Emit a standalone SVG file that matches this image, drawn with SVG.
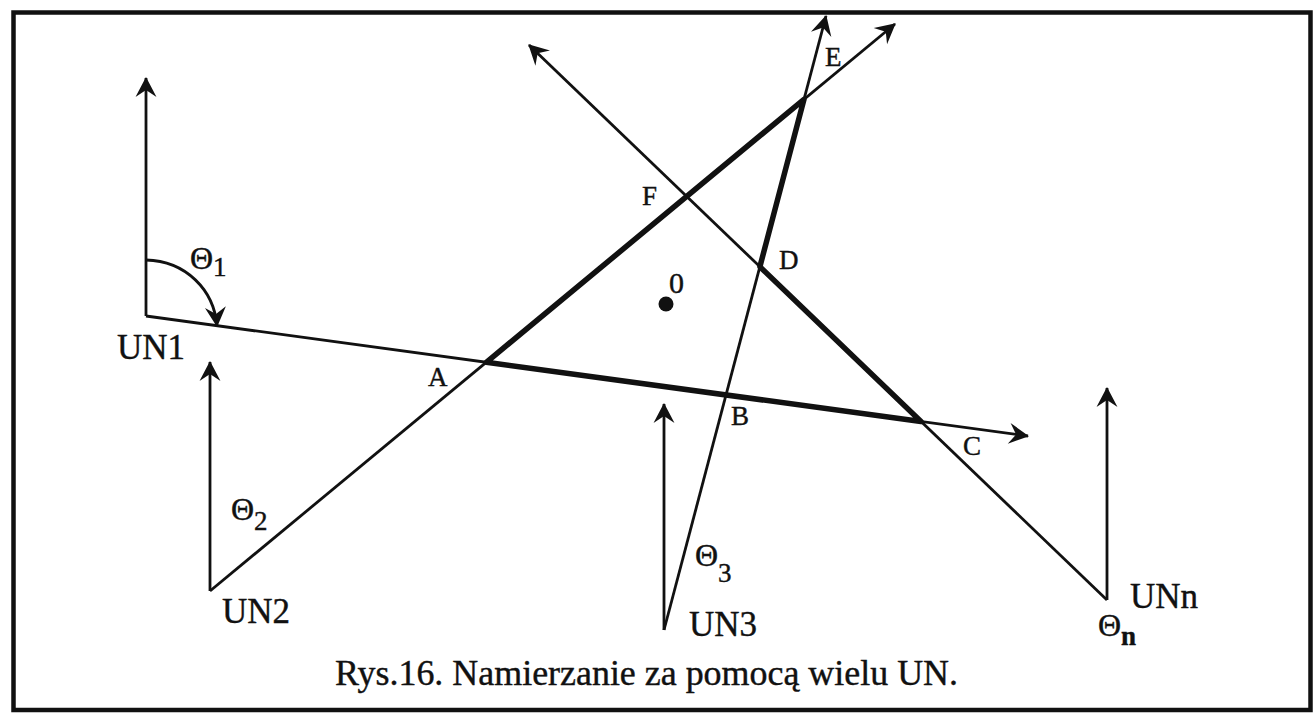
<svg xmlns="http://www.w3.org/2000/svg" width="1313" height="717" viewBox="0 0 1313 717">
<style>
.thin{fill:none;stroke:#111;stroke-width:2.8;stroke-linecap:butt}
.thick{fill:none;stroke:#111;stroke-width:5.5;stroke-linecap:round;stroke-linejoin:round}
.arr{marker-end:url(#ah)}
.lbl{font-family:"Liberation Serif","Times New Roman",serif;fill:#111;stroke:#111;stroke-width:0.4}
.un{font-size:35px}
.pt{font-size:27px}
.th{font-size:32px}
.sub{font-size:27px}
</style>
<defs>
<marker id="ah" viewBox="-22 -12 24 24" refX="0" refY="0" markerWidth="24" markerHeight="24" markerUnits="userSpaceOnUse" orient="auto">
<path d="M1,0 L-19,-10.5 L-12,0 L-19,10.5 Z" fill="#111"/>
</marker>
</defs>
<rect width="1313" height="717" fill="#fff"/>
<g id="frame">
<rect x="13.5" y="12.5" width="1297" height="697.5" fill="none" stroke="#111" stroke-width="4.5"/>
</g>
<g id="connectors">
<path id="bearing-1" class="thin arr" d="M146,316 L1028,436"/>
<path id="bearing-2" class="thin arr" d="M210,591 L895,24"/>
<path id="bearing-3" class="thin arr" d="M664,630 L826,16"/>
<path id="bearing-n" class="thin arr" d="M1107,600 L529,45"/>
<path id="area" class="thick" d="M486.3,362.3 L804,99.3 L759.9,266.7 L921,421.5 Z"/>
</g>
<g id="node-UN1">
<path class="thin arr" d="M146,316 L146,78"/>
<path class="thin arr" d="M146,260 C186,261 214,290 217,326"/>
<text class="lbl un" x="117" y="359">UN1</text>
<text class="lbl th" x="190" y="269">Θ<tspan class="sub" dy="7">1</tspan></text>
</g>
<g id="node-UN2">
<path class="thin arr" d="M210,591 L210,362"/>
<text class="lbl un" x="222" y="623">UN2</text>
<text class="lbl th" x="231" y="520">Θ<tspan class="sub" dy="10">2</tspan></text>
</g>
<g id="node-UN3">
<path class="thin arr" d="M664,630 L664,404"/>
<text class="lbl un" x="689" y="636">UN3</text>
<text class="lbl th" x="695" y="566">Θ<tspan class="sub" dy="16">3</tspan></text>
</g>
<g id="node-UNn">
<path class="thin arr" d="M1107,600 L1107,388"/>
<text class="lbl un" x="1130" y="608">UNn</text>
<text class="lbl th" x="1098" y="636">Θ<tspan class="sub" dy="9" font-weight="bold">n</tspan></text>
</g>
<g id="points">
<text class="lbl pt" x="428" y="386">A</text>
<text class="lbl pt" x="731" y="425">B</text>
<text class="lbl pt" x="963" y="455">C</text>
<text class="lbl pt" x="779" y="269">D</text>
<text class="lbl pt" x="825" y="66">E</text>
<text class="lbl pt" x="642" y="205">F</text>
</g>
<g id="point-0">
<circle cx="666" cy="304" r="7.5" fill="#111"/>
<text class="lbl" x="669" y="293" font-size="30">0</text>
</g>
<text id="caption" class="lbl" x="335" y="685" font-size="35" textLength="623" lengthAdjust="spacingAndGlyphs">Rys.16. Namierzanie za pomocą wielu UN.</text>
</svg>
